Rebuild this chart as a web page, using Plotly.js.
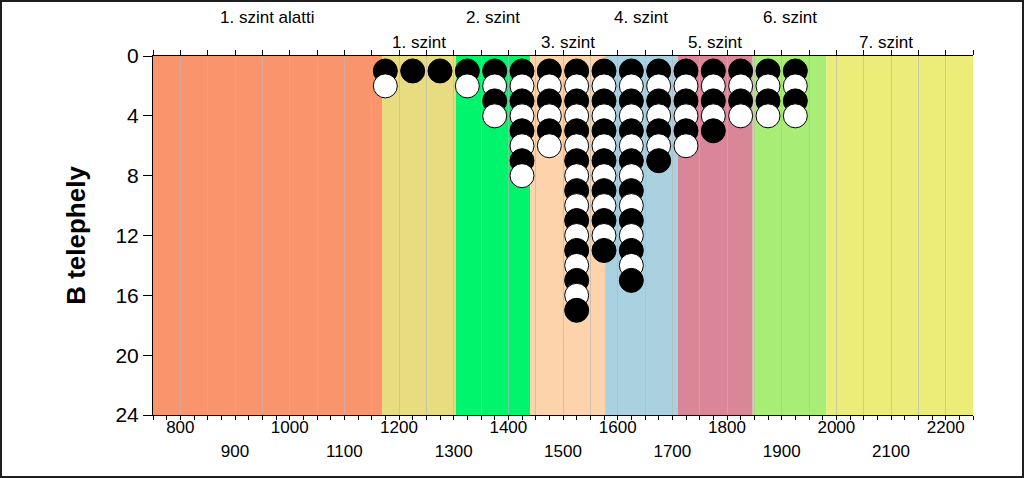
<!DOCTYPE html>
<html>
<head>
<meta charset="utf-8">
<script src="https://cdn.plot.ly/plotly-3.0.1.min.js"></script>
<style>
  html, body { margin: 0; padding: 0; background: #fff; }
  #chart { width: 1024px; height: 478px; box-sizing: border-box; border: 2px solid #1e1e1e; }
</style>
</head>
<body>
<div id="chart"></div>
<script>
// ---- data ----
const levelNames = ['1. szint alatti', '1. szint', '2. szint', '3. szint', '4. szint', '5. szint', '6. szint', '7. szint'];
const bandEdges = [750, 1169, 1304, 1440, 1577, 1710, 1847, 1982, 2250];
const binCenters = [1175, 1225, 1275, 1325, 1375, 1425, 1475, 1525, 1575, 1625, 1675, 1725, 1775, 1825, 1875, 1925];
const dotCounts  = [2, 1, 1, 2, 4, 8, 6, 17, 13, 15, 7, 6, 5, 4, 4, 4];
const xLabelsRow1 = [800, 1000, 1200, 1400, 1600, 1800, 2000, 2200];
const xLabelsRow2 = [900, 1100, 1300, 1500, 1700, 1900, 2100];
const yTicks = [0, 4, 8, 12, 16, 20, 24];
const yTitle = 'B telephely';

// ---- styles ----
const bandColors = ['#F9946C', '#E8DC80', '#00F46C', '#FCD3AA', '#A9D1E0', '#D98698', '#A8EE76', '#ECEC78'];
const FONT = 'Liberation Sans, Arial, sans-serif';
const XMIN = 750, XMAX = 2250;

// dots: stacked per bin, alternating black / white
const dx = [], dy = [], dc = [];
binCenters.forEach((c, i) => {
  for (let k = 1; k <= dotCounts[i]; k++) {
    dx.push(c); dy.push(k); dc.push(k % 2 === 1 ? '#000000' : '#ffffff');
  }
});

const minorVals = [];
for (let v = XMIN; v <= XMAX; v += 25) minorVals.push(v);
const gridVals = [];
for (let v = XMIN; v <= XMAX; v += 50) gridVals.push(v);

const shapes = levelNames.map((n, i) => ({
  type: 'rect', xref: 'x', yref: 'paper', layer: 'below',
  x0: bandEdges[i], x1: bandEdges[i + 1], y0: 0, y1: 1,
  fillcolor: bandColors[i], line: { width: 0 }
}));

const annotations = levelNames.map((n, i) => {
  const right = Math.min(bandEdges[i + 1], 2200);
  return {
    xref: 'x', yref: 'paper', x: (bandEdges[i] + right) / 2,
    y: i % 2 === 0 ? 1.107 : 1.037, yanchor: 'middle', xanchor: 'center',
    text: n, showarrow: false, font: { family: FONT, size: 17, color: '#000' }
  };
});

const dots = {
  type: 'scatter', mode: 'markers', x: dx, y: dy,
  xaxis: 'x', yaxis: 'y',
  marker: { size: 24, color: dc, line: { color: '#000', width: 1 } },
  hoverinfo: 'x+y', showlegend: false, cliponaxis: false
};
// empty traces so that the helper axes get drawn
const helpers = ['x2', 'x3', 'x4'].map(ax => ({
  type: 'scatter', mode: 'markers', x: [], y: [], xaxis: ax, yaxis: 'y',
  hoverinfo: 'skip', showlegend: false
}));

const common = { range: [XMIN, XMAX], zeroline: false, fixedrange: true };

const layout = {
  width: 1020, height: 474,
  margin: { l: 151, r: 49, t: 54, b: 61 },
  paper_bgcolor: '#fff', plot_bgcolor: 'rgba(0,0,0,0)',
  font: { family: FONT, color: '#000' },
  showlegend: false,
  xaxis: Object.assign({}, common, {
    tickmode: 'array', tickvals: xLabelsRow1, ticktext: xLabelsRow1.map(String),
    ticks: '', showgrid: false, showline: true, linecolor: '#000', linewidth: 1,
    ticklabelstandoff: -3,
    tickfont: { family: FONT, size: 17, color: '#000' }
  }),
  xaxis2: Object.assign({}, common, {
    overlaying: 'x', anchor: 'y', side: 'bottom',
    tickmode: 'array', tickvals: xLabelsRow2, ticktext: xLabelsRow2.map(String),
    ticks: '', showgrid: false, showline: false, ticklabelstandoff: 24,
    tickfont: { family: FONT, size: 17, color: '#000' }
  }),
  xaxis3: Object.assign({}, common, {
    overlaying: 'x', anchor: 'y', side: 'top',
    tickmode: 'array', tickvals: gridVals, showticklabels: false,
    ticks: 'outside', ticklen: 5, tickcolor: '#000', tickwidth: 1,
    showgrid: true, gridcolor: 'rgba(185,185,185,0.65)', gridwidth: 1,
    showline: true, linecolor: '#000', linewidth: 1
  }),
  xaxis4: Object.assign({}, common, {
    overlaying: 'x', anchor: 'y', side: 'bottom',
    tickmode: 'array', tickvals: minorVals, showticklabels: false,
    ticks: 'outside', ticklen: 4, tickcolor: '#000', tickwidth: 1,
    showgrid: false, showline: false
  }),
  yaxis: {
    range: [24, 0], tickmode: 'array', tickvals: yTicks, fixedrange: true,
    ticks: 'outside', ticklen: 9, tickcolor: '#000', tickwidth: 1,
    showgrid: false, zeroline: false, showline: true, linecolor: '#000', linewidth: 1,
    tickfont: { family: FONT, size: 21, color: '#000' },
    title: { text: yTitle, standoff: 22, font: { family: FONT, size: 26, color: '#000', weight: 'bold' } }
  },
  shapes: shapes,
  annotations: annotations
};

Plotly.newPlot('chart', [dots].concat(helpers), layout, { displayModeBar: false, staticPlot: true });
</script>
</body>
</html>
